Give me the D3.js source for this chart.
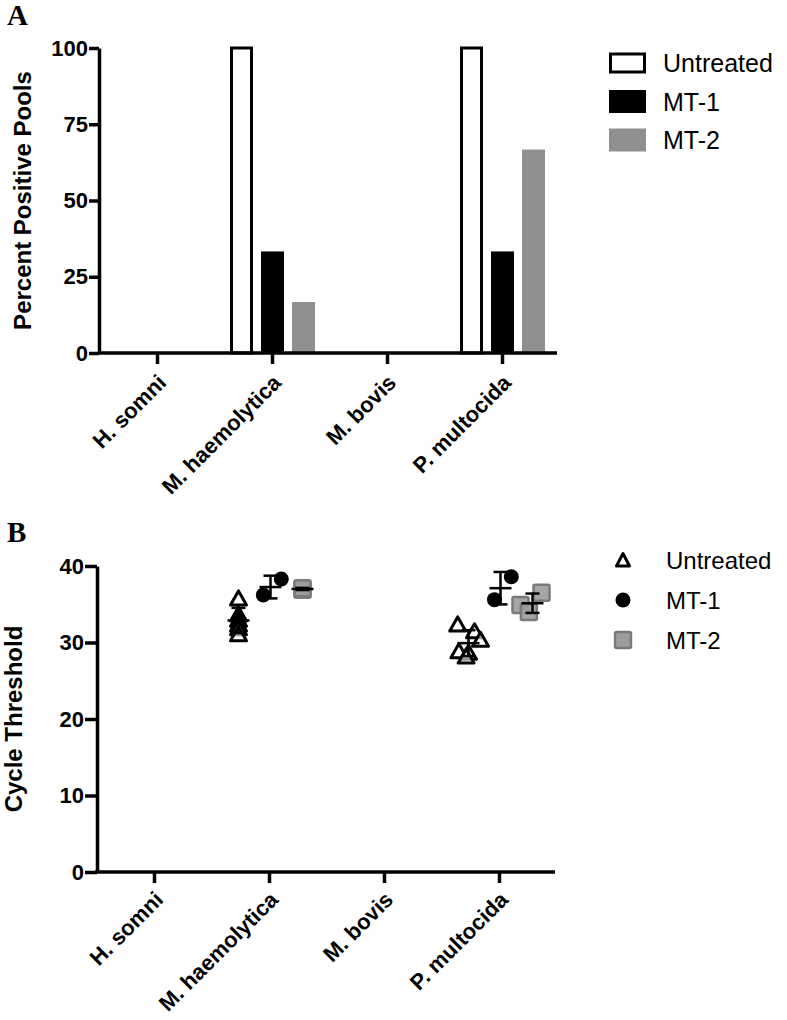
<!DOCTYPE html>
<html><head><meta charset="utf-8">
<script src="https://cdn.jsdelivr.net/npm/d3@7"></script>
<style>
body{margin:0;background:#fff;}
text{font-family:"Liberation Sans",Arial,Helvetica,sans-serif;}
</style></head>
<body><svg id="chart" width="787" height="1020"></svg>
<script>
// ---------- data ----------
const categories = ["H. somni", "M. haemolytica", "M. bovis", "P. multocida"];
const series = ["Untreated", "MT-1", "MT-2"];
// Panel A: percent positive pools
const pctUntreated = [0, 100, 0, 100];
const pctMT1 = [0, 33.3, 0, 33.3];
const pctMT2 = [0, 16.7, 0, 66.7];
const yTicksA = [0, 25, 50, 75, 100];
// Panel B: cycle threshold values
const ctHaemUntreated = [35.7, 33.6, 32.9, 32.3, 31.8, 31.0];
const ctHaemMT1 = [36.2, 38.3];
const ctHaemMT2 = [36.9, 37.1];
const ctMultUntreated = [32.3, 31.4, 30.3, 28.8, 28.6, 28.1];
const ctMultMT1 = [38.6, 35.6];
const ctMultMT2 = [36.5, 34.9, 34.0];
// horizontal scatter spread (Prism-style), in units of -1..1
const jitHaemUntreated = [0, 0, 0, 0, 0, 0];
const jitHaemMT1 = [-0.6, 0.9];
const jitHaemMT2 = [0, 0];
const jitMultUntreated = [-0.9, 0.5, 1.0, -0.8, 0, -0.2];
const jitMultMT1 = [0.9, -0.5];
const jitMultMT2 = [0.75, -1.0, -0.3];
const yTicksB = [0, 10, 20, 30, 40];

const svg = d3.select("#chart");
const FONT = '"Liberation Sans",Arial,Helvetica,sans-serif';

// ---------- Panel A ----------
const A = {left: 100, right: 560, top: 48, bottom: 353};
const xA = d3.scaleBand().domain(categories).range([A.left, A.right]);
const subA = d3.scalePoint().domain(series).range([-31, 31]);
const yA = d3.scaleLinear().domain([0, 100]).range([A.bottom, A.top]);

const barFill = {"Untreated": "#fff", "MT-1": "#000", "MT-2": "#8f8f8f"};
const pctBySeries = {"Untreated": pctUntreated, "MT-1": pctMT1, "MT-2": pctMT2};
const gA = svg.append("g");

series.forEach(s => {
  categories.forEach((c, i) => {
    const v = pctBySeries[s][i];
    if (v <= 0) return;
    const cx = xA(c) + xA.bandwidth() / 2 + subA(s);
    if (s === "Untreated") {
      gA.append("rect").attr("x", cx - 10).attr("width", 20)
        .attr("y", yA(v)).attr("height", yA(0) - yA(v))
        .attr("fill", "#fff").attr("stroke", "#000").attr("stroke-width", 3);
    } else {
      gA.append("rect").attr("x", cx - 11.5).attr("width", 23)
        .attr("y", yA(v)).attr("height", yA(0) - yA(v))
        .attr("fill", barFill[s]);
    }
  });
});

function styleAxis(g, fs) {
  g.selectAll("path.domain").attr("stroke", "#000").attr("stroke-width", 3.5);
  g.selectAll(".tick line").attr("stroke", "#000").attr("stroke-width", 3.5);
  g.selectAll(".tick text").attr("fill", "#000").style("font-family", FONT)
    .style("font-weight", "bold").style("font-size", fs + "px");
}

const axYA = gA.append("g").attr("transform", `translate(${A.left - 1},0)`)
  .call(d3.axisLeft(yA).tickValues(yTicksA).tickSize(10).tickSizeOuter(0).tickPadding(1));
styleAxis(axYA, 22);
const axXA = gA.append("g").attr("transform", `translate(0,${A.bottom})`)
  .call(d3.axisBottom(xA).tickSize(11).tickSizeOuter(0).tickFormat(() => ""));
styleAxis(axXA, 22);
axXA.select("path.domain").attr("d", `M${A.left - 2},0H557`);

categories.forEach(c => {
  const tx = xA(c) + xA.bandwidth() / 2;
  gA.append("text").attr("transform", `translate(${tx + 10},${A.bottom + 31}) rotate(-45)`)
    .attr("text-anchor", "end").style("font-weight", "bold").style("font-size", "22px")
    .text(c);
});
gA.append("text").attr("transform", `translate(31,${(A.top + A.bottom) / 2}) rotate(-90)`)
  .attr("text-anchor", "middle").style("font-weight", "bold").style("font-size", "24px")
  .text("Percent Positive Pools");
svg.append("text").attr("x", 7).attr("y", 25)
  .style("font-family", '"Liberation Serif","Times New Roman",serif')
  .style("font-weight", "bold").style("font-size", "29px").text("A");

// Legend A
const legA = gA.append("g");
series.forEach((s, i) => {
  const cy = 63 + i * 38.5;
  if (s === "Untreated") {
    legA.append("rect").attr("x", 610.5).attr("y", cy - 9).attr("width", 34).attr("height", 18)
      .attr("fill", "#fff").attr("stroke", "#000").attr("stroke-width", 3);
  } else {
    legA.append("rect").attr("x", 609).attr("y", cy - 11.5).attr("width", 37).attr("height", 23)
      .attr("fill", barFill[s]);
  }
  legA.append("text").attr("x", 663).attr("y", cy + 9)
    .style("font-size", "25px").text(s);
});

// ---------- Panel B ----------
const B = {left: 97, right: 557, top: 566, bottom: 872};
const xB = d3.scaleBand().domain(categories).range([B.left, B.right]);
const subB = d3.scalePoint().domain(series).range([-31, 33]);
const jitB = d3.scaleLinear().domain([-1, 1]).range([-12, 12]);
const yB = d3.scaleLinear().domain([0, 40]).range([B.bottom, B.top]);
const gB = svg.append("g");

const groups = [
  {cat: "M. haemolytica", s: "Untreated", v: ctHaemUntreated, j: jitHaemUntreated},
  {cat: "M. haemolytica", s: "MT-1", v: ctHaemMT1, j: jitHaemMT1},
  {cat: "M. haemolytica", s: "MT-2", v: ctHaemMT2, j: jitHaemMT2},
  {cat: "P. multocida", s: "Untreated", v: ctMultUntreated, j: jitMultUntreated},
  {cat: "P. multocida", s: "MT-1", v: ctMultMT1, j: jitMultMT1},
  {cat: "P. multocida", s: "MT-2", v: ctMultMT2, j: jitMultMT2}
];

const triPath = "M0,-8L8,6L-8,6Z";
function drawMarker(g, s, x, y) {
  if (s === "Untreated") {
    g.append("path").attr("d", triPath).attr("transform", `translate(${x},${y})`)
      .attr("fill", "#fff").attr("fill-opacity", 0.6).attr("stroke", "#000").attr("stroke-width", 3)
      .attr("stroke-linejoin", "round");
  } else if (s === "MT-1") {
    g.append("circle").attr("cx", x).attr("cy", y).attr("r", 7.5).attr("fill", "#000");
  } else {
    g.append("rect").attr("x", x - 8).attr("y", y - 8).attr("width", 16).attr("height", 16)
      .attr("rx", 1.5).attr("fill", "#9c9c9c").attr("fill-opacity", 0.9)
      .attr("stroke", "#7a7a7a").attr("stroke-width", 2.5);
  }
}

groups.forEach(gr => {
  const cx = xB(gr.cat) + xB.bandwidth() / 2 + subB(gr.s);
  gr.v.forEach((v, k) => drawMarker(gB, gr.s, cx + jitB(gr.j[k]), yB(v)));
});
groups.forEach(gr => {
  const cx = xB(gr.cat) + xB.bandwidth() / 2 + subB(gr.s);
  const m = d3.mean(gr.v), sd = d3.deviation(gr.v);
  const e = gB.append("g").attr("stroke", "#000").attr("stroke-width", 2.5);
  e.append("line").attr("x1", cx).attr("x2", cx).attr("y1", yB(m - sd)).attr("y2", yB(m + sd));
  e.append("line").attr("x1", cx - 7).attr("x2", cx + 7).attr("y1", yB(m + sd)).attr("y2", yB(m + sd));
  e.append("line").attr("x1", cx - 7).attr("x2", cx + 7).attr("y1", yB(m - sd)).attr("y2", yB(m - sd));
  e.append("line").attr("x1", cx - 11).attr("x2", cx + 11).attr("y1", yB(m)).attr("y2", yB(m));
});

const axYB = gB.append("g").attr("transform", `translate(${B.left},0)`)
  .call(d3.axisLeft(yB).tickValues(yTicksB).tickSize(12).tickSizeOuter(0).tickPadding(1));
styleAxis(axYB, 22);
const axXB = gB.append("g").attr("transform", `translate(0,${B.bottom})`)
  .call(d3.axisBottom(xB).tickSize(11).tickSizeOuter(0).tickFormat(() => ""));
styleAxis(axXB, 22);
axXB.select("path.domain").attr("d", `M${B.left - 2},0H555`);

categories.forEach(c => {
  const tx = xB(c) + xB.bandwidth() / 2;
  gB.append("text").attr("transform", `translate(${tx + 10},${B.bottom + 29}) rotate(-45)`)
    .attr("text-anchor", "end").style("font-weight", "bold").style("font-size", "22px")
    .text(c);
});
gB.append("text").attr("transform", `translate(22,${(B.top + B.bottom) / 2}) rotate(-90)`)
  .attr("text-anchor", "middle").style("font-weight", "bold").style("font-size", "24px")
  .text("Cycle Threshold");
svg.append("text").attr("x", 7).attr("y", 542)
  .style("font-family", '"Liberation Serif","Times New Roman",serif')
  .style("font-weight", "bold").style("font-size", "29px").text("B");

// Legend B
series.forEach((s, i) => {
  const cy = 560 + i * 40;
  if (s === "Untreated") {
    gB.append("path").attr("d", "M0,-6.5L6.5,6L-6.5,6Z").attr("transform", `translate(623,${cy})`)
      .attr("fill", "#fff").attr("stroke", "#000").attr("stroke-width", 3).attr("stroke-linejoin", "round");
  } else if (s === "MT-1") {
    gB.append("circle").attr("cx", 623).attr("cy", cy).attr("r", 7.5).attr("fill", "#000");
  } else {
    gB.append("rect").attr("x", 615).attr("y", cy - 8).attr("width", 16).attr("height", 16)
      .attr("rx", 1.5).attr("fill", "#9c9c9c").attr("stroke", "#7a7a7a").attr("stroke-width", 2.5);
  }
  gB.append("text").attr("x", 666).attr("y", cy + 8.5).style("font-size", "24px").text(s);
});
</script></body></html>
